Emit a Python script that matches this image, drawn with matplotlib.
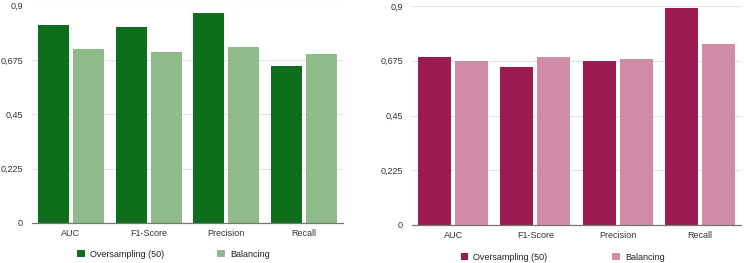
import numpy as np
import matplotlib.pyplot as plt
from matplotlib.patches import Patch

plt.rcParams.update(
    {
        "font.family": ["Liberation Sans", "DejaVu Sans"],
        "font.size": 6.5,
    }
)

CATEGORIES = ["AUC", "F1-Score", "Precision", "Recall"]
SERIES_NAMES = ["Oversampling (50)", "Balancing"]

# left panel (green)
LEFT_OVERSAMPLING = [0.821, 0.810, 0.871, 0.650]
LEFT_BALANCING = [0.719, 0.709, 0.730, 0.700]

# right panel (maroon)
RIGHT_OVERSAMPLING = [0.691, 0.651, 0.672, 0.892]
RIGHT_BALANCING = [0.672, 0.691, 0.681, 0.743]

Y_TICKS = [0, 0.225, 0.45, 0.675, 0.9]
Y_TICK_LABELS = ["0", "0,225", "0,45", "0,675", "0,9"]

GREEN_DARK = "#0e6e1c"
GREEN_LIGHT = "#8fba89"
MAROON_DARK = "#9b1b52"
MAROON_LIGHT = "#cf8ca7"

W, H = 744, 263


def draw_panel(fig, rect, over, bal, c_dark, c_light, legend_x, legend_y, colspace):
    ax = fig.add_axes(rect)
    x = np.arange(len(CATEGORIES))
    width = 0.4
    offset = 0.225
    ax.bar(x - offset, over, width, color=c_dark, zorder=3)
    ax.bar(x + offset, bal, width, color=c_light, zorder=3)

    ax.set_xlim(-0.5, len(CATEGORIES) - 0.5)
    ax.set_ylim(0, 0.9)
    ax.set_yticks(Y_TICKS)
    ax.set_yticklabels(Y_TICK_LABELS)
    ax.set_xticks(x)
    ax.set_xticklabels(CATEGORIES)
    ax.tick_params(axis="both", length=0, colors="#333333")
    ax.tick_params(axis="y", pad=6.5)
    ax.tick_params(axis="x", pad=4)
    ax.grid(axis="y", color="#e2e2e2", lw=0.8, zorder=0)
    for side in ["top", "right", "left"]:
        ax.spines[side].set_visible(False)
    ax.spines["bottom"].set_color("#777777")
    ax.spines["bottom"].set_linewidth(0.9)
    ax.spines["bottom"].set_zorder(4)

    handles = [
        Patch(facecolor=c_dark, edgecolor="none", label=SERIES_NAMES[0]),
        Patch(facecolor=c_light, edgecolor="none", label=SERIES_NAMES[1]),
    ]
    ax.legend(
        handles=handles,
        loc="center left",
        bbox_to_anchor=(legend_x, legend_y),
        ncol=2,
        frameon=False,
        handlelength=0.8,
        handleheight=0.8,
        handletextpad=0.6,
        columnspacing=colspace,
        borderaxespad=0,
        borderpad=0,
        labelcolor="#222222",
    )
    return ax


fig = plt.figure(figsize=(W / 100, H / 100), dpi=100)

left_rect = [32 / W, (H - 223) / H, (343 - 32) / W, (223 - 5.5) / H]
right_rect = [412 / W, (H - 225) / H, (741 - 412) / W, (225 - 6) / H]

draw_panel(fig, left_rect, LEFT_OVERSAMPLING, LEFT_BALANCING,
           GREEN_DARK, GREEN_LIGHT, 0.146, -(254.5 - 223) / (223 - 5.5), 5.9)
draw_panel(fig, right_rect, RIGHT_OVERSAMPLING, RIGHT_BALANCING,
           MAROON_DARK, MAROON_LIGHT, 0.148, -(257 - 225) / (225 - 6), 7.2)

fig.savefig("out.png", dpi=100)
